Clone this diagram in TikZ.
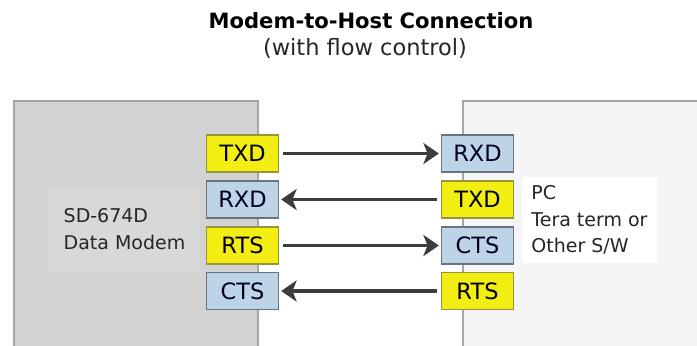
\documentclass[tikz,border=0pt]{standalone}
\usepackage{fontspec}
\setmainfont{DejaVu Sans}
\usetikzlibrary{arrows.meta}
\definecolor{modemgray}{HTML}{D3D3D3}
\definecolor{hostgray}{HTML}{F5F5F5}
\definecolor{portyellow}{HTML}{F2EE12}
\definecolor{portblue}{HTML}{BDD3E6}
\definecolor{wiregray}{HTML}{3C3C3C}

\begin{document}
\begin{tikzpicture}[x=0.025cm, y=-0.025cm, >={Stealth[length=11pt, width=15pt, inset=3pt]},
  unit/.style={rectangle, draw=black!35, line width=0.8pt},
  txport/.style={rectangle, draw=black!30!gray!60!portyellow, fill=portyellow, line width=0.8pt,
    minimum width=1.8cm, minimum height=0.925cm, inner sep=0pt, font=\fontsize{16}{18}\selectfont},
  rxport/.style={rectangle, draw=black!45!portblue, fill=portblue, line width=0.8pt, text=black!85!blue,
    minimum width=1.8cm, minimum height=0.925cm, inner sep=0pt, font=\fontsize{16}{18}\selectfont},
  label/.style={align=left, inner sep=0pt, font=\fontsize{13.5}{19}\selectfont, text=black!85},
  wire/.style={draw=wiregray, line width=2.5pt, shorten <=3pt, shorten >=1.5pt}]
\useasboundingbox (0,0) rectangle (697,345);
\clip (0,0) rectangle (697,345);
% title
\node[font=\bfseries\fontsize{15}{18}\selectfont] (title) at (371,21) {Modem-to-Host Connection};
\node[font=\fontsize{16}{18}\selectfont, text=black!85] (subtitle) at (365,48) {(with flow control)};
% modem and host
\node[unit, fill=modemgray, minimum width=6.1cm, minimum height=6.5cm] (modem) at (136,231) {};
\node[unit, fill=hostgray, minimum width=6.5cm, minimum height=6.5cm] (host) at (593,231) {};
\node[label, fill=modemgray!88!white, minimum width=3.775cm, minimum height=2.1cm] (modemtxt) at (124.5,229) {SD-674D\\Data Modem};
\node[label, fill=white, minimum width=3.375cm, minimum height=2.15cm] (hosttxt) at (589.5,220) {PC\\Tera term or\\Other S/W};
% ports
\node[txport] (mTXD) at (242.5,153.5) {TXD};
\node[rxport] (mRXD) at (242.5,199.5) {RXD};
\node[txport] (mRTS) at (242.5,245.5) {RTS};
\node[rxport] (mCTS) at (242.5,291)   {CTS};
\node[rxport] (hRXD) at (477.5,153.5) {RXD};
\node[txport] (hTXD) at (477.5,199.5) {TXD};
\node[rxport] (hCTS) at (477.5,245.5) {CTS};
\node[txport] (hRTS) at (477.5,291)   {RTS};
% wires
\draw[wire, ->] (mTXD) -- (hRXD);
\draw[wire, ->] (hTXD) -- (mRXD);
\draw[wire, ->] (mRTS) -- (hCTS);
\draw[wire, ->] (hRTS) -- (mCTS);
\end{tikzpicture}
\end{document}
